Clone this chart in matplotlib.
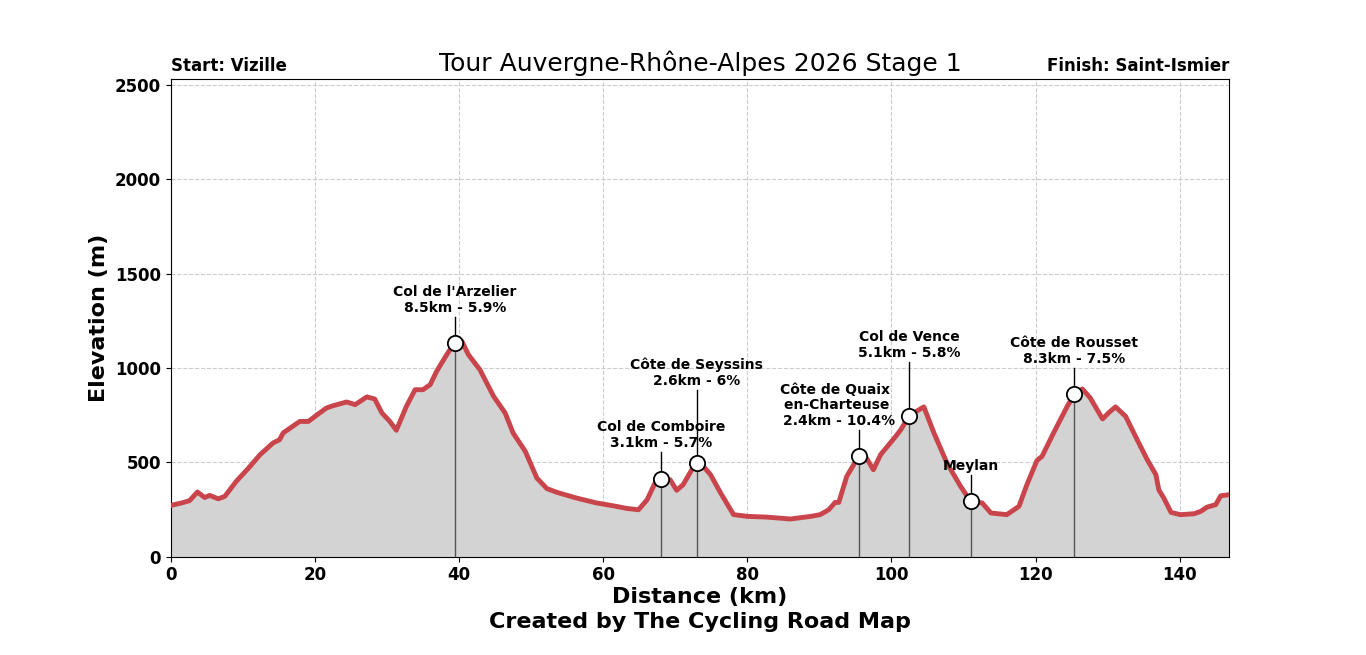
import matplotlib.pyplot as plt

# profile (km, m)
distance = [0, 1.5, 2.6, 3.7, 4.7, 5.4, 6.6, 7.5, 9.1, 10.8, 12.4, 14.2, 15.1, 15.6,
            17.9, 19.1, 20.2, 21.6, 22.5, 24.4, 25.6, 27.2, 28.3, 29.3, 30.4, 31.3,
            32.7, 33.9, 35.0, 36.0, 36.9, 38.3, 39.4, 40.4, 41.3, 42.9, 44.8, 46.4,
            47.5, 49.2, 50.8, 52.2, 53.6, 56.3, 59.1, 61.4, 63.3, 64.9, 66.1, 67.2,
            68.0, 69.3, 70.2, 71.1, 72.3, 73.0, 73.9, 74.9, 76.3, 78.1, 80.0, 82.7,
            86.0, 88.8, 90.1, 91.3, 92.2, 92.7, 93.8, 95.5, 96.4, 97.5, 98.5, 100.6,
            101.3, 102.5, 103.5, 104.5, 105.9, 107.7, 109.6, 111.0, 112.6, 113.8,
            116.0, 117.7, 118.8, 120.2, 120.9, 122.5, 124.4, 125.4, 126.5, 127.6,
            129.3, 130.2, 131.1, 132.5, 134.1, 135.5, 136.7, 137.1, 137.8, 138.8,
            140.1, 142.0, 142.9, 143.8, 145.0, 145.7, 146.9]
elevation = [272, 285, 297, 343, 314, 325, 307, 320, 400, 470, 541, 603, 620, 656,
             717, 717, 749, 788, 800, 820, 806, 847, 836, 762, 717, 670,
             797, 885, 885, 912, 983, 1071, 1135, 1142, 1071, 991, 850, 762,
             656, 558, 417, 361, 341, 311, 285, 270, 256, 249, 302, 391,
             412, 408, 352, 382, 461, 497, 479, 435, 338, 223, 214, 210,
             200, 214, 223, 249, 288, 288, 426, 535, 532, 461, 541, 638,
             673, 748, 771, 794, 656, 497, 373, 293, 285, 232,
             223, 267, 382, 510, 532, 656, 797, 864, 889, 841,
             730, 765, 794, 744, 620, 514, 435, 355, 311, 235,
             223, 228, 240, 263, 276, 323, 329]

climb_names = ["Col de l'Arzelier\n8.5km - 5.9%", "Col de Comboire\n3.1km - 5.7%",
               "Côte de Seyssins\n2.6km - 6%", "Côte de Quaix  \nen-Charteuse \n2.4km - 10.4%",
               "Col de Vence\n5.1km - 5.8%", "Meylan", "Côte de Rousset\n8.3km - 7.5%"]
climb_km = [39.4, 68.0, 73.0, 95.5, 102.5, 111.0, 125.4]
climb_elev = [1135, 412, 497, 535, 748, 293, 864]
label_elev = [1272, 557, 885, 673, 1034, 435, 1002]
label_km = [39.4, 68.0, 73.0, 92.8, 102.5, 111.0, 125.4]

fig, ax = plt.subplots(figsize=(13.66, 6.55), dpi=100)
fig.subplots_adjust(left=0.125, right=0.9, top=0.879, bottom=0.15)

ax.fill_between(distance, elevation, 0, color='lightgray', zorder=1)
ax.plot(distance, elevation, color='#c9454b', lw=3.5, zorder=3)

for i in range(len(climb_km)):
    ax.plot([climb_km[i], climb_km[i]], [0, climb_elev[i]], color='#555555', lw=1, zorder=2)
    ax.plot([climb_km[i], climb_km[i]], [climb_elev[i], label_elev[i]], color='black', lw=1, zorder=2)
    ax.plot(climb_km[i], climb_elev[i], 'o', ms=11, mfc='white', mec='black', mew=1.3, zorder=5)
    ax.text(label_km[i], label_elev[i] + 10, climb_names[i], ha='center', va='bottom',
            fontsize=10, fontweight='bold', linespacing=1.15, zorder=6)

ax.set_xlim(0, 146.9)
ax.set_ylim(0, 2530)
ax.grid(True, linestyle='--', color='#cccccc', lw=0.8)
ax.set_axisbelow(True)

ax.set_xlabel('Distance (km)', fontsize=16, fontweight='bold', labelpad=2)
ax.set_ylabel('Elevation (m)', fontsize=16, fontweight='bold')
for lbl in ax.get_xticklabels() + ax.get_yticklabels():
    lbl.set_fontweight('bold')
    lbl.set_fontsize(12)

ax.set_title('Tour Auvergne-Rhône-Alpes 2026 Stage 1', fontsize=18, pad=6)
ax.set_title('Start: Vizille', loc='left', fontsize=12, fontweight='bold', pad=6)
ax.set_title('Finish: Saint-Ismier', loc='right', fontsize=12, fontweight='bold', pad=6)

fig.text(0.5124, 0.035, 'Created by The Cycling Road Map', ha='center', va='bottom',
         fontsize=16, fontweight='bold')

plt.savefig('out.png', dpi=100)
